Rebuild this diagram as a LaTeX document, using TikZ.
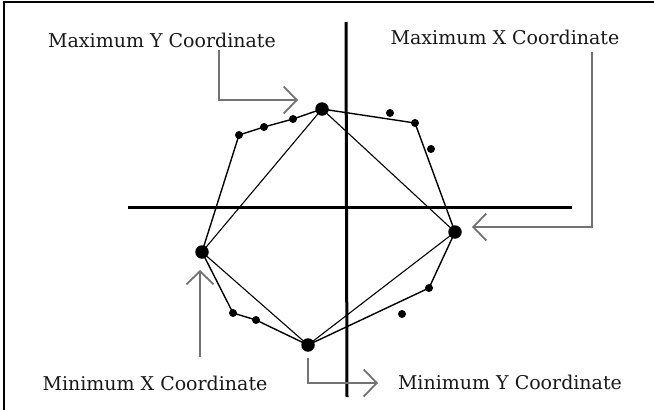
\documentclass[tikz,border=0pt]{standalone}
\usepackage{fontspec}
\setmainfont{DejaVu Serif}
\usetikzlibrary{arrows.meta}
\begin{document}
\begin{tikzpicture}[x=1pt,y=-1pt,
  hull/.style={line width=1.4pt,black},
  axis/.style={line width=3pt,black},
  pointer/.style={line width=2.3pt,draw=black!55,-{Straight Barb[length=13pt,width=27pt,line width=1.8pt]}},
  bigdot/.style={circle,fill=black,inner sep=0pt,minimum size=13.5pt},
  smalldot/.style={circle,fill=black,inner sep=0pt,minimum size=8pt},
  lbl/.style={font=\fontsize{19}{21}\selectfont,inner sep=0pt,text=black!90}]
\useasboundingbox (0,0) rectangle (654,410);
\draw[line width=2.2pt] (4,410) -- (4,2) -- (654,2);
% axes
\coordinate (hl) at (128,207);
\coordinate (hr) at (572,207);
\coordinate (vt) at (346,22);
\coordinate (vb) at (347,397);
\draw[axis] (hl) -- (hr);
\draw[axis] (vt) -- (vb);
% points
\node[bigdot] (maxy) at (322,109) {};
\node[bigdot] (maxx) at (455,232) {};
\node[bigdot] (miny) at (308,345) {};
\node[bigdot] (minx) at (202,252) {};
\node[smalldot] (p1) at (239,135) {};
\node[smalldot] (p2) at (264,127) {};
\node[smalldot] (p3) at (293,119) {};
\node[smalldot] (p4) at (415,123) {};
\node[smalldot] (p5) at (429,288) {};
\node[smalldot] (p6) at (256,320) {};
\node[smalldot] (p7) at (233,313) {};
\node[smalldot] (q1) at (390,113) {};
\node[smalldot] (q2) at (431,149) {};
\node[smalldot] (q3) at (402,314) {};
% hull
\draw[hull] (minx.center) -- (p1.center) -- (p2.center) -- (p3.center) -- (maxy.center)
  -- (p4.center) -- (maxx.center) -- (p5.center) -- (miny.center) -- (p6.center)
  -- (p7.center) -- cycle;
\draw[hull,line width=1.1pt] (minx.center) -- (maxy.center) -- (maxx.center) -- (miny.center) -- cycle;
% labels
\node[lbl] (lmaxy) at (162,40) {Maximum Y Coordinate};
\node[lbl] (lmaxx) at (505,37) {Maximum X Coordinate};
\node[lbl] (lminx) at (155,383) {Minimum X Coordinate};
\node[lbl] (lminy) at (510,382) {Minimum Y Coordinate};
% pointers
\coordinate (a1) at (219,50);
\coordinate (a1t) at (298,100);
\draw[pointer] (a1) |- (a1t);
\coordinate (a2) at (592,52);
\coordinate (a2t) at (472,227);
\draw[pointer] (a2) |- (a2t);
\coordinate (a3) at (200,357);
\coordinate (a3t) at (200,270);
\draw[pointer] (a3) -- (a3t);
\coordinate (a4) at (308,358);
\coordinate (a4t) at (378,383);
\draw[pointer] (a4) |- (a4t);
\end{tikzpicture}
\end{document}
